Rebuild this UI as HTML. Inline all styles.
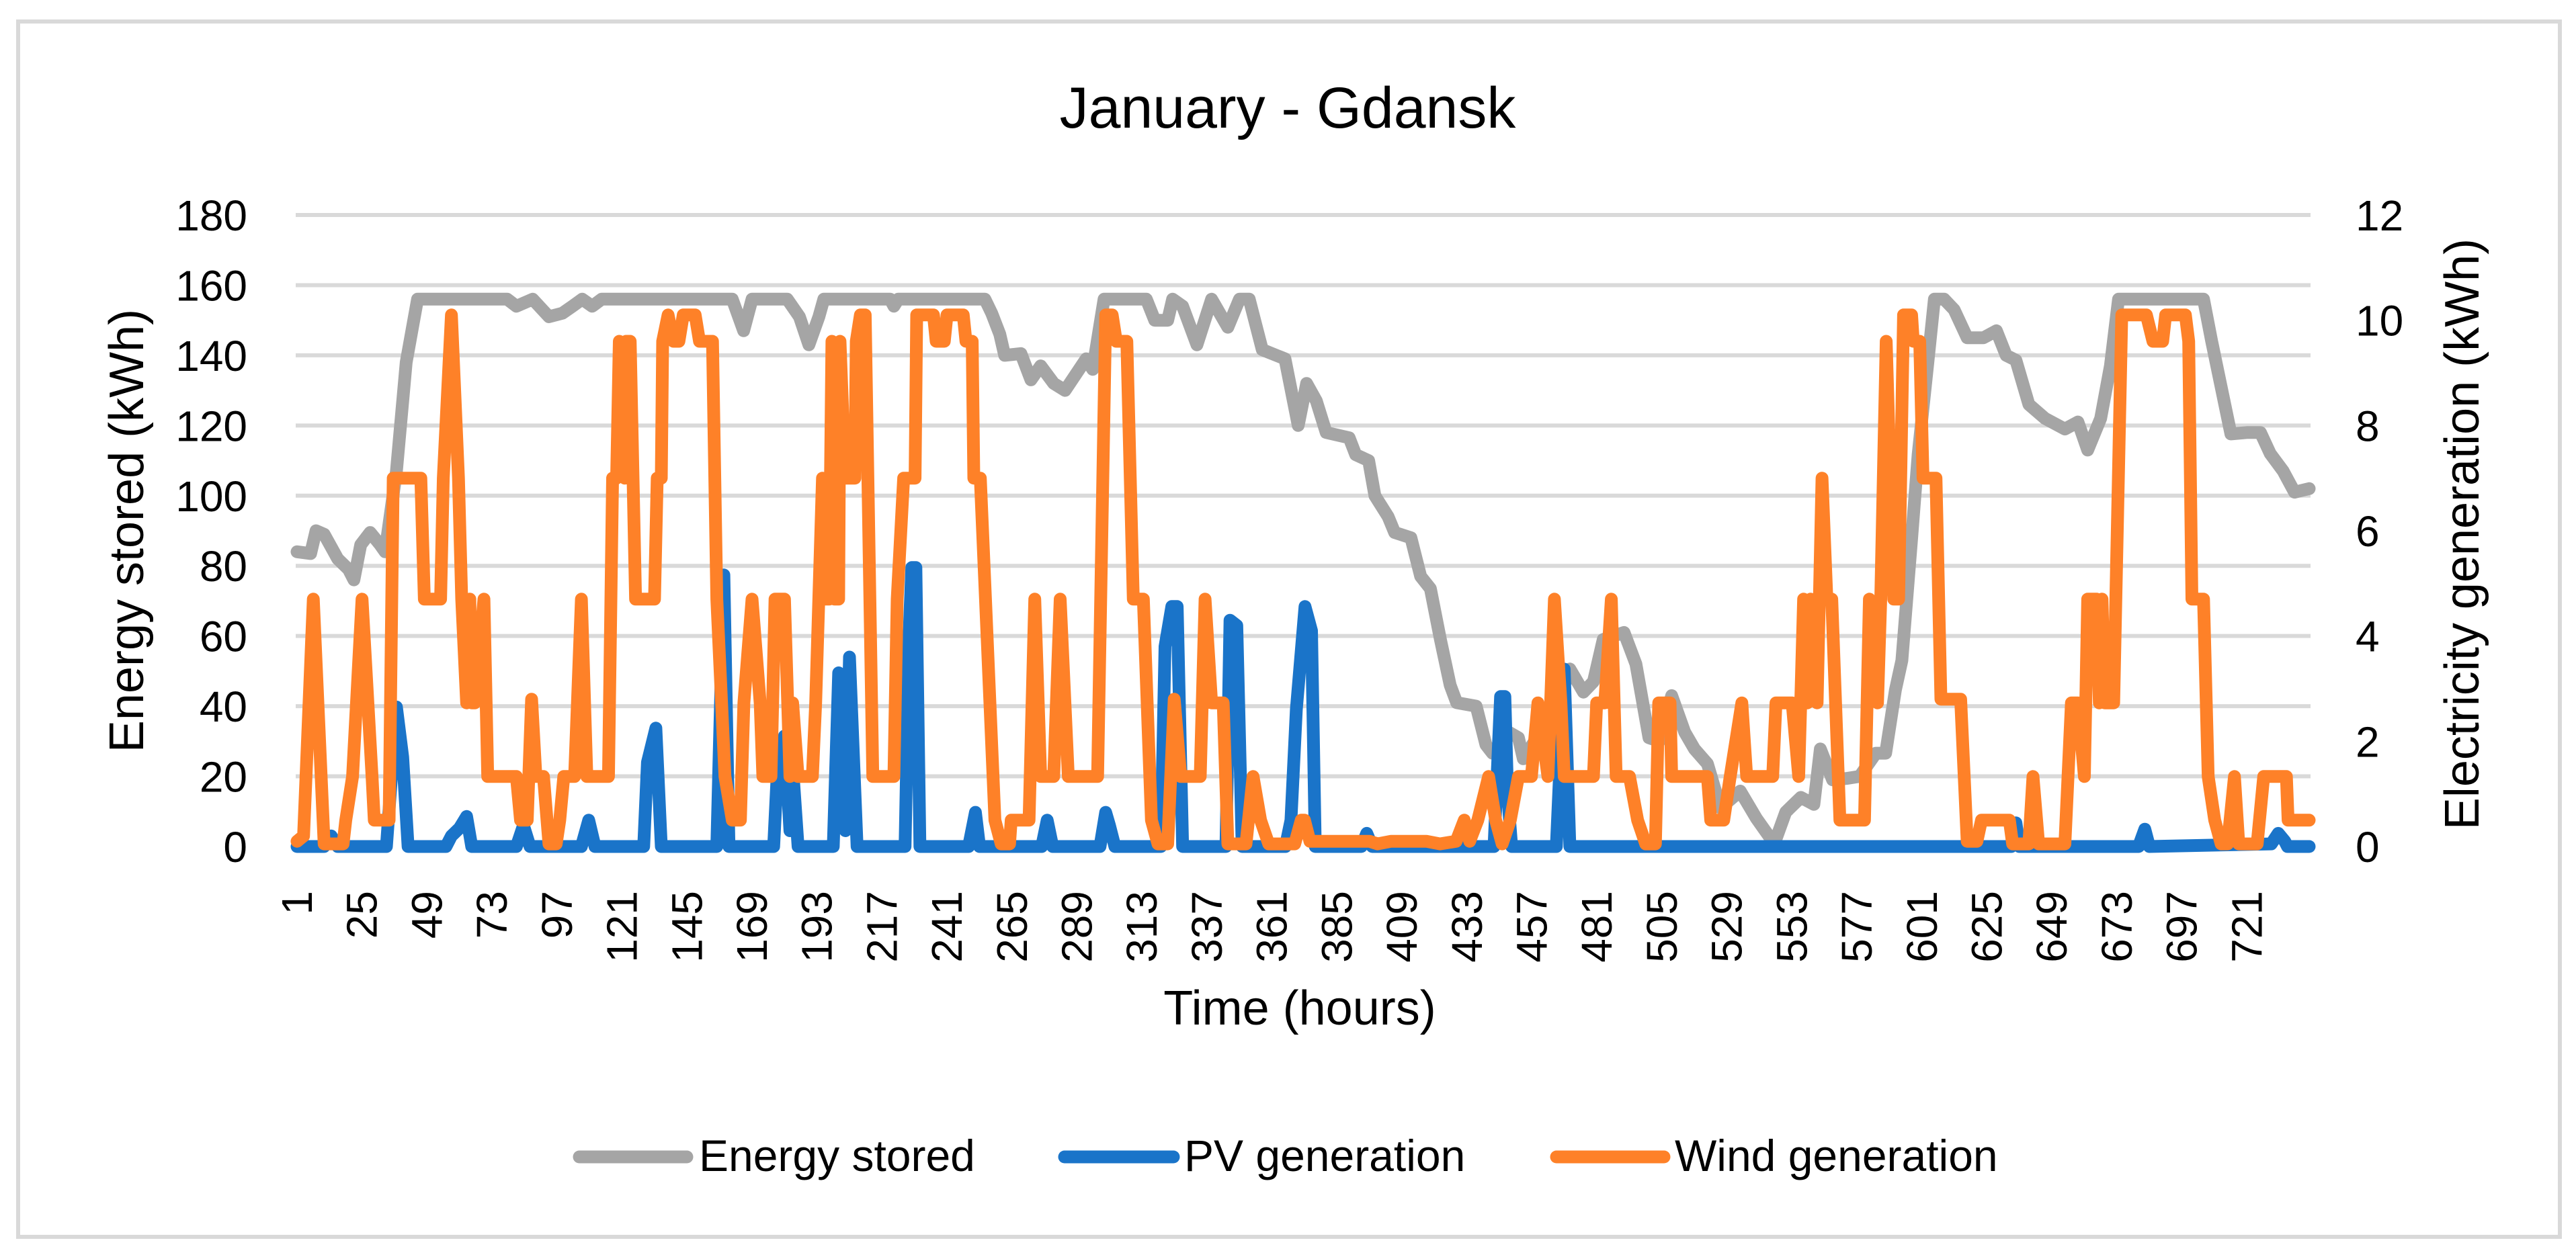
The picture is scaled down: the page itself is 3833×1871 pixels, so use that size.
<!DOCTYPE html>
<html><head><meta charset="utf-8"><title>January - Gdansk</title>
<style>
html,body{margin:0;padding:0;background:#fff;}
svg{display:block;font-family:"Liberation Sans",sans-serif;}
</style></head>
<body>
<svg id="chart" width="3833" height="1871" viewBox="0 0 3833 1871" xmlns="http://www.w3.org/2000/svg">
<rect x="27" y="32" width="3782" height="1809" fill="#fff" stroke="#d9d9d9" stroke-width="6"/>
<text x="1916" y="190" font-size="86" text-anchor="middle" fill="#000">January - Gdansk</text>
<g id="grid"></g>
<g id="ylabels"></g>
<g id="y2labels"></g>
<g id="xlabels"></g>
<g id="series"></g>
<text transform="translate(213,790) rotate(-90)" font-size="72" text-anchor="middle" fill="#000">Energy stored (kWh)</text>
<text transform="translate(3688,795) rotate(-90)" font-size="72" text-anchor="middle" fill="#000">Electricity generation (kWh)</text>
<text x="1934" y="1525" font-size="72" text-anchor="middle" fill="#000">Time (hours)</text>
<g>
 <g>
  <line x1="862" y1="1722" x2="1022" y2="1722" stroke="#a5a5a5" stroke-width="19" stroke-linecap="round"/>
  <text x="1040" y="1743" font-size="66" fill="#000">Energy stored</text>
 </g>
 <g>
  <line x1="1584" y1="1722" x2="1746" y2="1722" stroke="#1a74c9" stroke-width="19" stroke-linecap="round"/>
  <text x="1762" y="1743" font-size="66" fill="#000">PV generation</text>
 </g>
 <g>
  <line x1="2316" y1="1722" x2="2476" y2="1722" stroke="#fe8128" stroke-width="19" stroke-linecap="round"/>
  <text x="2492" y="1743" font-size="66" fill="#000">Wind generation</text>
 </g>
</g>
</svg>
<script>
const leftTicks = [0,20,40,60,80,100,120,140,160,180];
const rightTicks = [0,2,4,6,8,10,12];
const xTickLabels = [1,25,49,73,97,121,145,169,193,217,241,265,289,313,337,361,385,409,433,457,481,505,529,553,577,601,625,649,673,697,721];

const energyHours = [1,6,8,11,16,20,22,24.5,28,31.7,33.5,37.7,41.3,45.5,78.6,82,88,94,99,102.7,106.3,110,113.5,161.7,165.9,169,182,186.5,190,193.7,195.5,220,221.4,223,255,257.5,260.5,262.3,268.3,272,275.6,280.4,284.6,292.4,294.8,299,314.6,317.7,322.5,324.3,328,333.3,338.7,344.7,349,352.6,357.4,365.8,370.7,373.8,377.4,381,389.5,391.9,396.7,399,403.9,406.3,412.3,415.9,419.5,423.2,426.8,429.2,436.4,440,442.4,448.4,452,453.8,458,464,468,471,476,479.7,483.3,491,495.4,500.2,504,508.6,513.4,517,521.8,526.6,533.9,539.9,546.5,550.7,556.3,561.1,563.5,568,573.1,578,584,587.6,591.2,593.6,597.2,599.6,603.2,605.6,609.2,612.9,617.7,623.7,628.5,632.1,635.7,640.5,646.5,653.8,658.6,662.2,667,670.6,673.6,705,708,711.5,715.1,721,726,729.6,734.4,738.6,744];
const energyValues = [84,83.5,90,89,82,79,76,86,89.5,86,84,107,138,156,156,154,156,151,152,154,156,154,156,156,147,156,156,151,143,151,156,156,154,156,156,152,146,140,140.5,133,137,132,130,139,136,156,156,150,150,156,154,143,156,148,156,156,141.6,139,120,132,127,118,116.5,111.7,110,100,94,89.5,88,77,73.5,59,46,41,40,29,26.6,32.6,31,25,30,38,44,50.6,44,47,59,61,52,31,30,43,32.6,27.8,23.6,11,15.8,8,0.8,9.8,14,12,27.8,19,19.4,20,26.6,26.6,44.6,53,87.7,111.7,138,156,156,153,145,145,147,140,138.6,126,122,119,121,113,122,137,156,156,144,131,117.6,118,118,112,107,101,102];

const pvHours = [1,11,13.6,16,34,37.7,40,42,56,58,61,63.6,65.5,82,84.6,87,106,108.7,111,129,130.4,133.5,135.5,156,157,158.6,160.5,177,178.5,181,183,184,186,199,201,203.5,205,207.8,225.5,227,228,229.5,231,249,251.5,253,276,278,280,297.5,299.6,301,303,320,321.5,324,326,328,344,345.5,348,350,366,368,370,373.2,375.6,377,394,396,398,443,445.4,447,448,449.5,466,468.9,471,634,635.7,637,681,683.3,685,730,732.6,735,736,744];
const pvValues = [0,0,0.2,0,0,2.65,1.7,0,0,0.2,0.35,0.57,0,0,0.4,0,0,0.5,0,0,1.6,2.25,0,0,2,5.16,0,0,1.6,2.1,0.3,1.5,0,0,3.3,0.3,3.6,0,0,4,5.3,5.3,0,0,0.65,0,0,0.5,0,0,0.65,0.4,0,0,3.8,4.56,4.56,0,0,4.3,4.2,0,0,0.5,2.6,4.56,4.1,0,0,0.25,0,0,2.85,2.85,1.0,0,0,3.37,0,0,0.45,0,0,0.33,0,0.05,0.25,0.1,0,0];

const windHours = [1,3.4,7,11,18,19,21.5,25,28.7,29.5,35,36.5,46.7,48,54,55,58,60.6,61.8,63.6,64.8,65.5,66.6,70,71.4,82,83.5,86,87.6,89.2,92,94,96.7,98,99.5,103.5,106,108,116,117.5,119,120,122,122.5,124,126,133,134,135.5,136,138,140,142,143.6,148,149.6,154.4,156,159,161.7,164.7,166,169,172,173,176,177.5,181,183,184,186,191.3,192.5,195,196,197.5,198.5,199.5,201,201.5,203.4,207,207.5,209,210.8,213.6,221.4,222.6,225,229.2,229.8,236,237,240,241,247,248,250.3,250.9,253.3,258.7,261,264.1,264.7,271.3,273.4,275.6,280.4,282.8,285.8,296.6,299.6,302,303.5,307.4,309.8,313.5,316.5,318.9,322.5,324.9,327.3,334.5,336.3,338.7,343,344.7,351.4,354,356.8,359.8,369.4,371.8,373,375,397,400,405,418,423,429,432,434,437,441,443.6,446,449,452,456.8,459.2,462.9,465.3,467.7,468.9,479.7,480.9,483.9,486.3,488.1,493,496,499,502.6,503.8,508,508.6,521.8,523,527.8,530.2,534.5,536.3,545.9,547.1,553.1,555.5,557.3,558.7,559.9,562.3,564.1,565.9,567.7,570.7,579.8,581.6,584.6,585.8,587.8,590.6,592.4,594.2,597.2,597.8,600.2,601.4,606.2,608,615.3,617.7,621.3,623,633.3,634.5,640.5,642,644.1,653.8,656.2,658.6,661,662.2,665.5,666.5,667.5,668.5,671.8,674.8,683.9,686.3,689.9,691,698.3,699.5,700.7,705,706.7,709.1,711.5,713.9,716.4,718,724.8,727.2,735.6,736.2,744];
const windValues = [0.1,0.2,4.7,0.05,0.05,0.5,1.33,4.7,1.33,0.5,0.5,7,7,4.7,4.7,7,10.1,7,4.7,2.73,4.7,2.73,2.73,4.7,1.33,1.33,0.5,0.5,2.8,1.33,1.33,0.05,0.05,0.5,1.33,1.33,4.7,1.33,1.33,7,7,9.6,7,9.6,9.6,4.7,4.7,7,7,9.6,10.1,9.6,9.6,10.1,10.1,9.6,9.6,4.7,1.33,0.5,0.5,2.73,4.7,2.73,1.33,1.33,4.7,4.7,1.33,2.73,1.33,1.33,2.73,7,4.7,4.7,9.6,4.7,4.7,9.6,7,7,9.6,10.1,10.1,1.33,1.33,4.7,7,7,10.1,10.1,9.6,9.6,10.1,10.1,9.6,9.6,7,7,0.5,0.05,0.05,0.5,0.5,4.7,1.33,1.33,4.7,1.33,1.33,10.1,10.1,9.6,9.6,4.7,4.7,0.5,0.05,0.05,2.8,1.33,1.33,4.7,2.73,2.73,0.05,0.05,1.33,0.5,0.05,0.05,0.5,0.5,0.1,0.1,0.05,0.1,0.1,0.05,0.1,0.5,0.1,0.5,1.33,0.5,0.05,0.5,1.33,1.33,2.73,1.33,4.7,2.73,1.33,1.33,2.73,2.73,4.7,1.33,1.33,0.5,0.05,0.05,2.73,2.73,1.33,1.33,0.5,0.5,1.33,2.73,1.33,1.33,2.73,2.73,1.33,4.7,2.73,4.7,2.73,7,4.7,4.7,0.5,0.5,4.7,2.73,4.7,9.6,4.7,4.7,10.1,10.1,9.6,9.6,7,7,2.8,2.8,0.1,0.1,0.5,0.5,0.05,0.05,1.33,0.05,0.05,2.73,2.73,1.33,4.7,4.7,2.73,4.7,2.73,2.73,10.1,10.1,9.6,9.6,10.1,10.1,9.6,4.7,4.7,1.33,0.5,0.05,0.05,1.33,0.05,0.05,1.33,1.33,0.5,0.5];

const NS = 'http://www.w3.org/2000/svg';
const PL = 440, PR = 3438, PT = 320, PB = 1260, NH = 744;
function xScale(h){ return PL + (h - 0.5) * (PR - PL) / NH; }
function yLeft(v){ return PB - v * (PB - PT) / 180; }
function yRight(v){ return PB - v * (PB - PT) / 12; }
function mk(tag, attrs, parent){ const e = document.createElementNS(NS, tag); for (const k in attrs) e.setAttribute(k, attrs[k]); parent.appendChild(e); return e; }

const grid = document.getElementById('grid');
const yl = document.getElementById('ylabels');
leftTicks.forEach(function(t){
  if (t > 0) {
    const g = mk('line', {x1: PL, x2: PR, y1: yLeft(t), y2: yLeft(t), stroke: '#d9d9d9', 'stroke-width': 6}, grid);
    
    
  }
  const tx = mk('text', {x: 368, y: yLeft(t) + 23, 'font-size': 64, 'text-anchor': 'end', fill: '#000'}, yl);
  tx.textContent = t;
  
  
});
const y2 = document.getElementById('y2labels');
rightTicks.forEach(function(t){
  const tx = mk('text', {x: 3505, y: yRight(t) + 23, 'font-size': 64, 'text-anchor': 'start', fill: '#000'}, y2);
  tx.textContent = t;
  
  
});
const xl = document.getElementById('xlabels');
xTickLabels.forEach(function(h){
  const tx = mk('text', {transform: 'translate(' + (xScale(h) + 22) + ',1326) rotate(-90)', 'font-size': 64, 'text-anchor': 'end', fill: '#000'}, xl);
  tx.textContent = h;
  
  
});

const series = document.getElementById('series');
function drawLine(hours, values, yf, color, name){
  const pts = hours.map(function(h, i){ return xScale(h).toFixed(1) + ',' + yf(values[i]).toFixed(1); }).join(' ');
  const p = mk('polyline', {points: pts, fill: 'none', stroke: color, 'stroke-width': 19, 'stroke-linejoin': 'round', 'stroke-linecap': 'round'}, series);
  
  
}
drawLine(energyHours, energyValues, yLeft, '#a5a5a5', 'energy-stored-line');
drawLine(pvHours, pvValues, yRight, '#1a74c9', 'pv-generation-line');
drawLine(windHours, windValues, yRight, '#fe8128', 'wind-generation-line');
</script>
</body></html>
